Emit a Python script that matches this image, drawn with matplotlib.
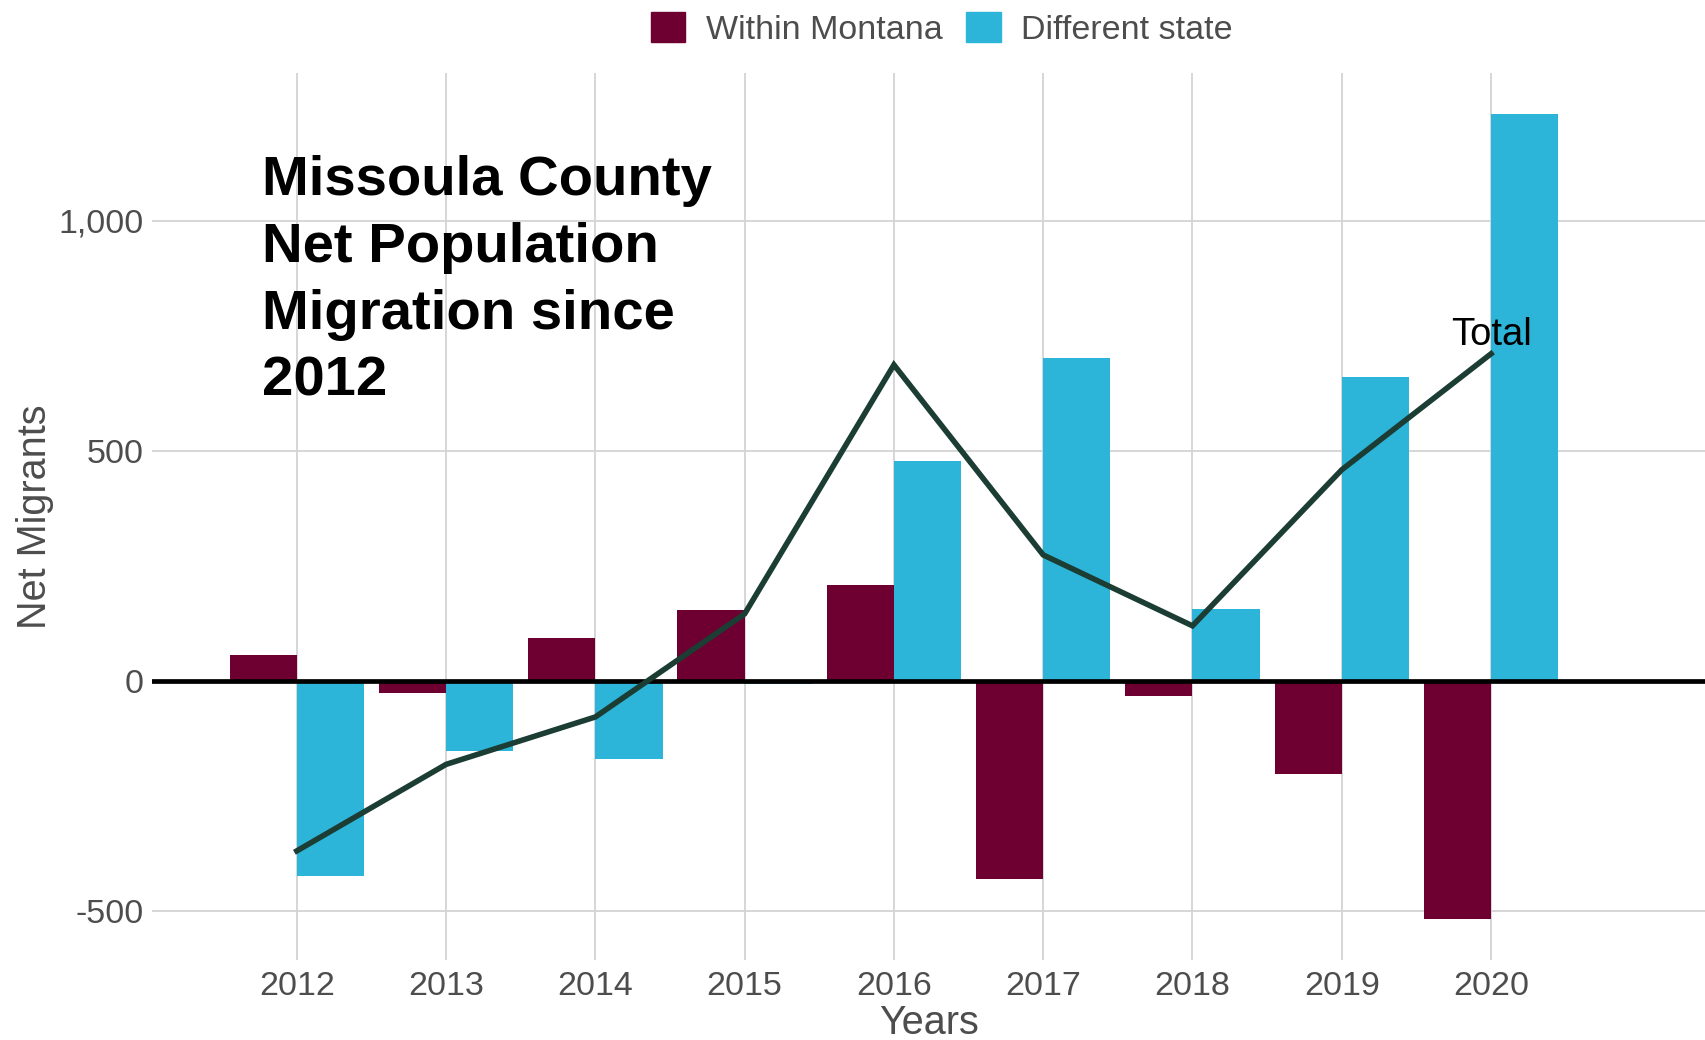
import matplotlib
matplotlib.use('Agg')
import matplotlib.pyplot as plt
from matplotlib.patches import Patch
from matplotlib.ticker import FuncFormatter
import numpy as np

plt.rcParams['font.family'] = ['Liberation Sans', 'DejaVu Sans']

# data
years = [2012, 2013, 2014, 2015, 2016, 2017, 2018, 2019, 2020]
within_montana = [56, -27, 94, 154, 208, -429, -33, -202, -517]
different_state = [-424, -152, -170, -6, 479, 702, 157, 660, 1232]
total = [-369, -181, -78, 146, 687, 274, 120, 459, 711]

maroon = '#6d0030'
cyan = '#2db5d9'
line_col = '#1b3d33'
grey_txt = '#4d4d4d'
grid_col = '#d3d3d3'

fig = plt.figure(figsize=(17.06, 10.4), dpi=100)
ax = fig.add_axes([152/1706, 1-960/1040, 1-152/1706, (960-73)/1040])

x = np.array(years)
# Within Montana left of the year, Different state right of it
ax.bar(x - 0.45, within_montana, width=0.45, align='edge', color=maroon, zorder=2)
ax.bar(x, different_state, width=0.45, align='edge', color=cyan, zorder=2)

ax.axhline(0, color='black', lw=3.4, zorder=3)
ax.plot(x, total, color=line_col, lw=4.0, zorder=4, solid_joinstyle='miter')
ax.text(2020, total[-1] + 2, 'Total', ha='center', va='bottom', fontsize=27.5, color='black', zorder=5)

ax.text(2011.77, 1143, 'Missoula County\nNet Population\nMigration since\n2012',
        fontsize=40.5, fontweight='bold', va='top', ha='left', linespacing=1.37, zorder=5)

ax.set_xlim(2011.03, 2021.44)
ax.set_ylim(-606, 1321)
ax.set_xticks(years)
ax.set_yticks([-500, 0, 500, 1000])
ax.yaxis.set_major_formatter(FuncFormatter(lambda v, p: '{:,.0f}'.format(v)))
ax.tick_params(length=0, labelsize=24.5, labelcolor=grey_txt)
ax.tick_params(axis='y', pad=6)
ax.tick_params(axis='x', pad=8)
ax.grid(True, color=grid_col, lw=1.3, zorder=0)
ax.set_axisbelow(True)
for s in ax.spines.values():
    s.set_visible(False)

ax.set_xlabel('Years', fontsize=28.5, color=grey_txt, labelpad=1)
ax.set_ylabel('Net Migrants', fontsize=28.5, color=grey_txt, labelpad=3)

handles = [Patch(color=maroon, label='Within Montana'), Patch(color=cyan, label='Different state')]
fig.legend(handles=handles, loc='upper center', bbox_to_anchor=(942/1706, 1.018), ncol=2,
           frameon=False, fontsize=24.5, handlelength=1.0, handleheight=1.0,
           handletextpad=0.6, columnspacing=0.7, labelcolor=grey_txt)

fig.savefig('out.png', dpi=100)
